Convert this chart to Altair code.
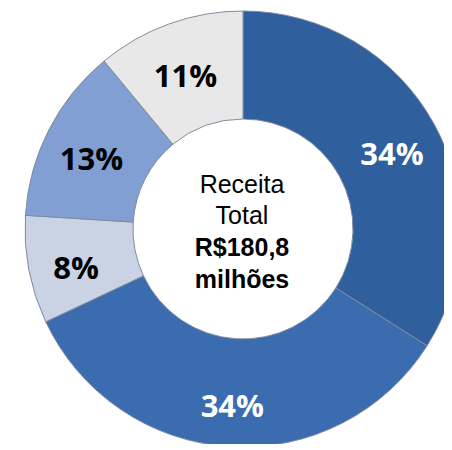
import altair as alt
import pandas as pd

segments = ["S1", "S2", "S3", "S4", "S5"]
shares = [34, 34, 8, 13, 11]
labels = ["34%", "34%", "8%", "13%", "11%"]
center_light = ["Receita", "Total"]
center_bold = ["R$180,8", "milhões"]

colors = ["#2F5F9C", "#3A6CAF", "#C9D3E4", "#819FD3", "#E8E8E8"]

df = pd.DataFrame({"seg": segments, "share": shares, "label": labels,
                   "idx": list(range(len(segments)))})

CX, CY = 235, 221

base = alt.Chart(df).encode(
    theta=alt.Theta("share:Q", stack=True),
    order=alt.Order("idx:Q"),
)

arcs = base.mark_arc(innerRadius=110, outerRadius=218, stroke="#7f8ba0",
                     strokeWidth=1).encode(
    x=alt.value(CX), y=alt.value(CY),
    color=alt.Color("seg:N", scale=alt.Scale(domain=segments, range=colors),
                    legend=None),
)

text = base.mark_text(radius=170, font="Open Sans", fontWeight="bold",
                      fontSize=31, dy=9).encode(
    x=alt.value(CX), y=alt.value(CY),
    text="label:N",
    color=alt.condition(alt.datum.share >= 30, alt.value("white"),
                        alt.value("black")),
)

c1 = alt.Chart(pd.DataFrame({"t": ["\n".join(center_light)]})).mark_text(
    font="Liberation Sans", fontSize=25, lineHeight=31, baseline="middle",
    lineBreak="\n", color="black").encode(
    text="t:N", x=alt.value(CX - 1), y=alt.value(CY - 44))

c2 = alt.Chart(pd.DataFrame({"t": ["\n".join(center_bold)]})).mark_text(
    font="Liberation Sans", fontSize=25, fontWeight="bold", lineHeight=32,
    baseline="middle", lineBreak="\n", color="black").encode(
    text="t:N", x=alt.value(CX - 1), y=alt.value(CY + 19))

chart = alt.layer(arcs, text, c1, c2).properties(
    width=436, height=436, padding=0,
    autosize=alt.AutoSizeParams(type="none"),
).configure_view(stroke=None)

chart.save("out.html", embed_options={"renderer": "svg", "actions": False})
